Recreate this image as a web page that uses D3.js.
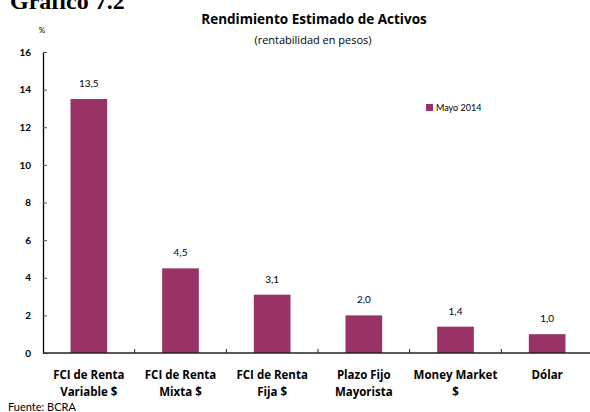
<!DOCTYPE html>
<html lang="es">
<head>
<meta charset="UTF-8">
<script src="https://d3js.org/d3.v7.min.js"></script>
<style>
  body { margin: 0; background: #fff; }
  svg { display: block; }
</style>
</head>
<body>
<svg width="590" height="412"></svg>
<script>
// datos
const categorias = [
  ["FCI de Renta", "Variable $"],
  ["FCI de Renta", "Mixta $"],
  ["FCI de Renta", "Fija $"],
  ["Plazo Fijo", "Mayorista"],
  ["Money Market", "$"],
  ["Dólar"]
];
const valores = [13.5, 4.5, 3.1, 2.0, 1.4, 1.0];
const ticksY = [0, 2, 4, 6, 8, 10, 12, 14, 16];
const serie = "Mayo 2014";

const svg = d3.select("svg");
const font = "Lato, 'Open Sans', sans-serif";
const fontAncha = "'Open Sans', Lato, sans-serif";
const color = "#993366";

const mLeft = 43, mRight = 593, mTop = 52, mBottom = 353;

const x = d3.scaleBand()
  .domain(d3.range(valores.length))
  .range([mLeft, mRight])
  .paddingInner(0.6)
  .paddingOuter(0.3);

const xBound = d3.scaleLinear().domain([0, valores.length]).range([mLeft, mRight]);

const y = d3.scaleLinear().domain([0, 16]).range([mBottom, mTop]);

// título
svg.append("text")
  .attr("x", 10).attr("y", 9)
  .style("font-family", "'Liberation Serif', serif")
  .style("font-weight", "bold")
  .style("font-size", "24px")
  .text("Gráfico 7.2");

svg.append("text")
  .attr("x", 314).attr("y", 24)
  .attr("text-anchor", "middle")
  .style("font-family", fontAncha)
  .style("font-weight", "bold")
  .style("font-size", "13.5px")
  .text("Rendimiento Estimado de Activos");

svg.append("text")
  .attr("x", 313).attr("y", 44)
  .attr("text-anchor", "middle")
  .style("font-family", fontAncha)
  .style("font-size", "11px")
  .text("(rentabilidad en pesos)");

svg.append("text")
  .attr("x", 42).attr("y", 33)
  .attr("text-anchor", "middle")
  .style("font-family", font)
  .style("font-size", "8px")
  .text("%");

// barras
svg.selectAll("rect.bar")
  .data(valores)
  .enter()
  .append("rect")
  .attr("class", "bar")
  .attr("x", (d, i) => x(i))
  .attr("y", d => y(d))
  .attr("width", x.bandwidth())
  .attr("height", d => mBottom - y(d))
  .style("fill", color);

// etiquetas de valor
svg.selectAll("text.val")
  .data(valores)
  .enter()
  .append("text")
  .attr("class", "val")
  .attr("x", (d, i) => x(i) + x.bandwidth() / 2)
  .attr("y", d => y(d) - 12)
  .attr("text-anchor", "middle")
  .style("font-family", font)
  .style("font-size", "10px")
  .text(d => d3.format(".1f")(d).replace(".", ","));

// eje y
const gy = svg.append("g")
  .attr("transform", `translate(${mLeft},0)`)
  .call(d3.axisLeft(y).tickValues(ticksY).tickSizeInner(-4).tickSizeOuter(0).tickPadding(12));
gy.select(".domain").style("stroke", "#000").style("stroke-width", 1.3);
gy.selectAll("line").style("stroke", "#555");
gy.selectAll("text")
  .style("font-family", font)
  .style("font-weight", "bold")
  .style("font-size", "10px")
  .style("fill", "#000");

// eje x
svg.append("line")
  .attr("x1", mLeft).attr("x2", mRight)
  .attr("y1", mBottom).attr("y2", mBottom)
  .style("stroke", "#222").style("stroke-width", 1.3);

svg.selectAll("line.xt")
  .data(d3.range(1, valores.length))
  .enter()
  .append("line")
  .attr("class", "xt")
  .attr("x1", d => xBound(d)).attr("x2", d => xBound(d))
  .attr("y1", mBottom).attr("y2", mBottom - 4)
  .style("stroke", "#222");

const cat = svg.selectAll("text.cat")
  .data(categorias)
  .enter()
  .append("text")
  .attr("class", "cat")
  .attr("x", (d, i) => x(i) + x.bandwidth() / 2)
  .attr("y", 379)
  .attr("text-anchor", "middle")
  .style("font-family", fontAncha)
  .style("font-weight", "bold")
  .style("font-size", "11.5px");
cat.selectAll("tspan")
  .data(d => d)
  .enter()
  .append("tspan")
  .attr("x", function () { return d3.select(this.parentNode).attr("x"); })
  .attr("dy", (d, i) => i === 0 ? 0 : 17)
  .text(d => d);

// leyenda
svg.append("rect")
  .attr("x", 426).attr("y", 104)
  .attr("width", 7).attr("height", 7)
  .style("fill", color);
svg.append("text")
  .attr("x", 436).attr("y", 111)
  .style("font-family", font)
  .style("font-size", "9px")
  .text(serie);

// fuente
svg.append("text")
  .attr("x", 8).attr("y", 411)
  .style("font-family", font)
  .style("font-size", "11px")
  .text("Fuente: BCRA");
</script>
</body>
</html>
